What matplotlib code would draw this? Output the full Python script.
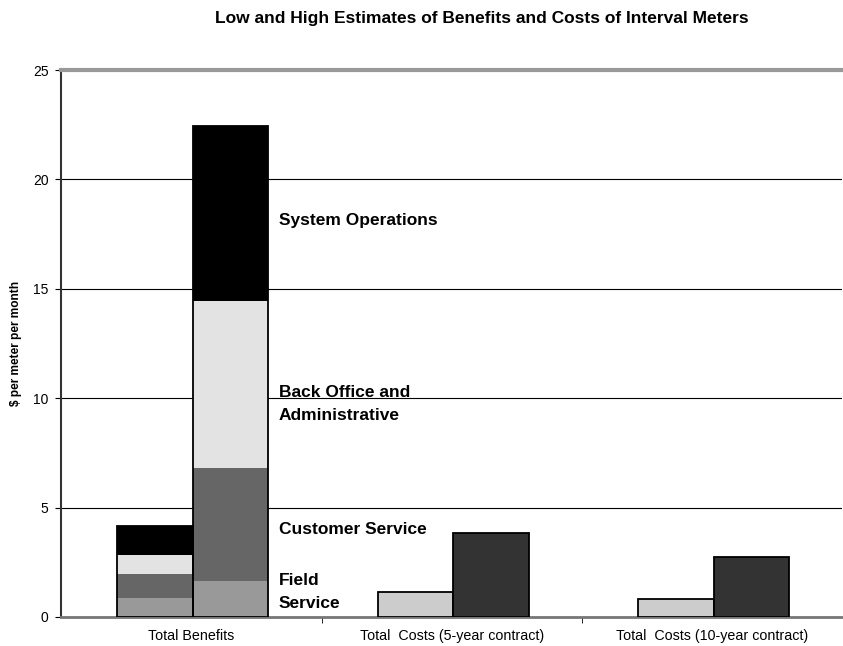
import matplotlib.pyplot as plt
import numpy as np

plt.rcParams['font.family'] = ['Liberation Sans', 'DejaVu Sans']

categories = ["Total Benefits", "Total  Costs (5-year contract)", "Total  Costs (10-year contract)"]

# benefit components (low estimate, high estimate)
component_names = ["Field\nService", "Customer Service", "Back Office and\nAdministrative", "System Operations"]
benefits_low = [0.85, 1.1, 0.9, 1.3]
benefits_high = [1.65, 5.15, 7.65, 8.0]
component_colors = ["#999999", "#666666", "#e3e3e3", "#000000"]

# costs (low, high) for the two contract lengths
costs_low = [1.15, 0.8]
costs_high = [3.82, 2.75]

yticks = [0, 5, 10, 15, 20, 25]

fig = plt.figure(figsize=(8.43, 6.46), dpi=100)
ax = fig.add_axes([0.0724, 0.0449, 0.927, 0.8467])

w = 0.29
x_low = np.arange(3) - 0.14
x_high = np.arange(3) + 0.15

# stacked benefit bars, segments without inner borders
bottom_l = 0.0
bottom_h = 0.0
for lo, hi, c in zip(benefits_low, benefits_high, component_colors):
    ax.bar(x_low[0], lo, w, bottom=bottom_l, color=c, linewidth=0, zorder=3)
    ax.bar(x_high[0], hi, w, bottom=bottom_h, color=c, linewidth=0, zorder=3)
    bottom_l += lo
    bottom_h += hi
# outline of each stack
ax.bar([x_low[0], x_high[0]], [bottom_l, bottom_h], w, facecolor="none",
       edgecolor="black", linewidth=1.3, zorder=4)

# cost bars
ax.bar(x_low[1:], costs_low, w, color="#cccccc", edgecolor="black", linewidth=1.3, zorder=3)
ax.bar(x_high[1:], costs_high, w, color="#333333", edgecolor="black", linewidth=1.3, zorder=3)

# labels for benefit components
label_y = [1.14, 3.98, 9.73, 18.1]
for name, yv in zip(component_names, label_y):
    ax.text(x_high[0] + w / 2 + 0.04, yv, name, fontsize=12.5, fontweight="bold",
            ha="left", va="center", linespacing=1.65, zorder=5)

ax.set_xlim(-0.5, 2.5)
ax.set_ylim(0, 25)
ax.set_yticks(yticks)
ax.tick_params(axis="y", labelsize=10, length=4, direction="out", pad=5)
ax.set_xticks(range(3))
ax.set_xticklabels(categories, fontsize=10.3)
ax.tick_params(axis="x", length=0, pad=9)
ax.set_xticks([0.5, 1.5], minor=True)
ax.tick_params(axis="x", which="minor", length=4, direction="out")

ax.yaxis.grid(True, color="black", linewidth=0.8, zorder=0)

ax.spines["right"].set_visible(False)
ax.spines["top"].set_color("#999999")
ax.spines["top"].set_linewidth(3)
ax.spines["bottom"].set_color("#777777")
ax.spines["bottom"].set_linewidth(2)
ax.spines["left"].set_color("#333333")
ax.spines["left"].set_linewidth(1.5)

ax.set_ylabel(r"\$ per meter per month", fontsize=8.6, fontweight="bold", labelpad=8)
fig.text(0.572, 0.972, "Low and High Estimates of Benefits and Costs of Interval Meters",
         ha="center", va="center", fontsize=12.5, fontweight="bold")

fig.savefig("out.png", dpi=100)
